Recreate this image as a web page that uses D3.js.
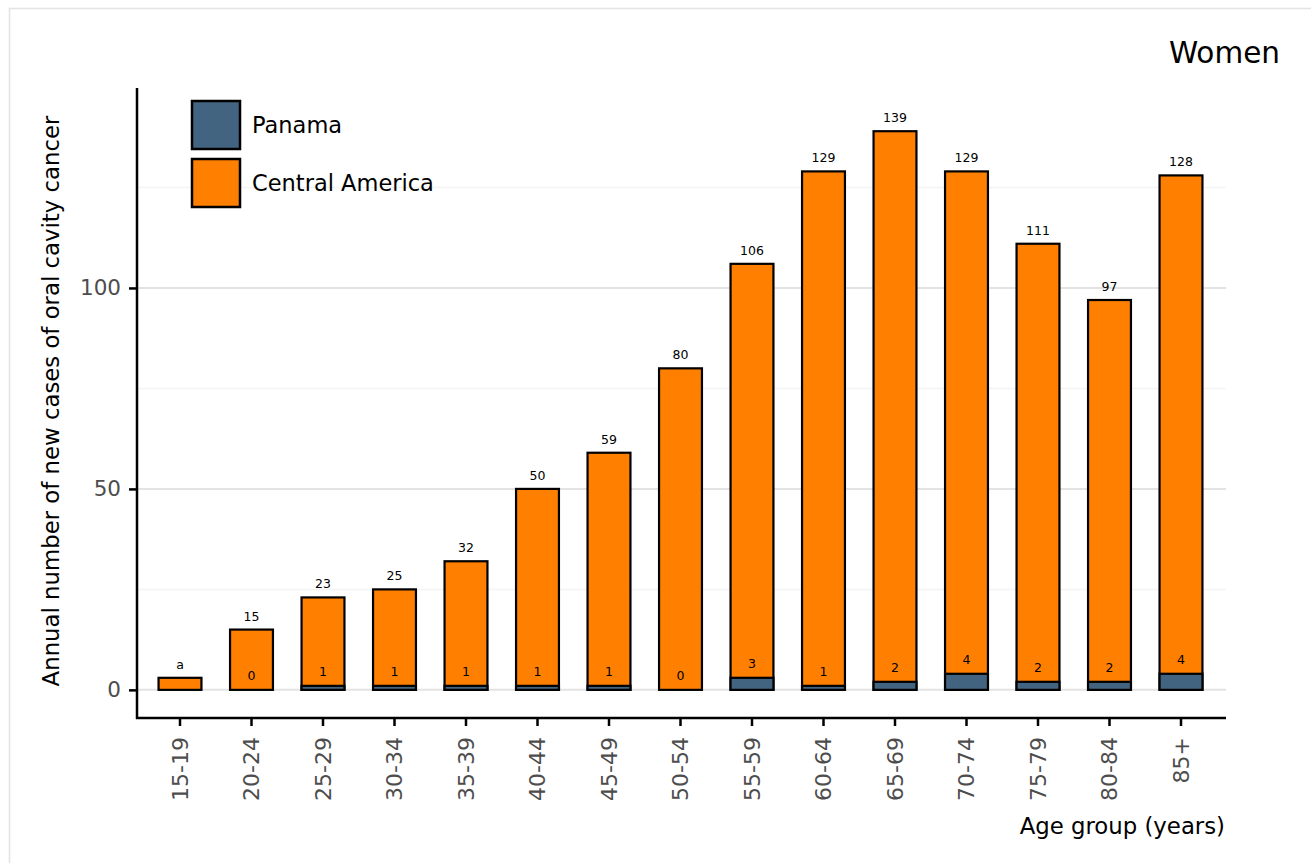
<!DOCTYPE html>
<html><head><meta charset="utf-8">
<script src="https://cdn.jsdelivr.net/npm/d3@7"></script>
<style>body{margin:0;background:#fff;} svg{display:block;font-family:"DejaVu Sans",sans-serif;}</style>
</head><body>
<script>
const categories = ["15-19","20-24","25-29","30-34","35-39","40-44","45-49","50-54","55-59","60-64","65-69","70-74","75-79","80-84","85+"];
const centralAmerica = [3,15,23,25,32,50,59,80,106,129,139,129,111,97,128];
const panama = [0,0,1,1,1,1,1,0,3,1,2,4,2,2,4];
const totalLabels = ["a","15","23","25","32","50","59","80","106","129","139","129","111","97","128"];
const panamaLabels = ["","0","1","1","1","1","1","0","3","1","2","4","2","2","4"];
const yTicks = [0,50,100];
const yMinor = [25,75,125];
const seriesNames = ["Panama","Central America"];
const colors = {"Panama":"#426481","Central America":"#ff7f00"};

const W=1311,H=863;
const svg=d3.select("body").append("svg").attr("width",W).attr("height",H);
svg.append("rect").attr("x",9.5).attr("y",8.5).attr("width",W+10).attr("height",H+10)
  .attr("fill","#fff").attr("stroke","#e3e3e3").attr("stroke-width",1.5);

const x=d3.scaleBand().domain(categories).range([144.25,1216.75]).paddingInner(0.4).paddingOuter(0.2);
const y=d3.scaleLinear().domain([-7,149.75]).range([718,88]);
const xl=137,xr=1226;

// grid
svg.append("g").selectAll("line").data(yMinor).join("line")
  .attr("x1",xl).attr("x2",xr).attr("y1",d=>y(d)).attr("y2",d=>y(d))
  .attr("stroke","#f4f4f4").attr("stroke-width",1.5);
svg.append("g").selectAll("line").data(yTicks).join("line")
  .attr("x1",xl).attr("x2",xr).attr("y1",d=>y(d)).attr("y2",d=>y(d))
  .attr("stroke","#e3e3e3").attr("stroke-width",2);

// bars
const g=svg.append("g");
g.selectAll("rect.ca").data(categories).join("rect").attr("class","ca")
  .attr("x",d=>x(d)).attr("width",x.bandwidth())
  .attr("y",(d,i)=>y(centralAmerica[i])).attr("height",(d,i)=>y(0)-y(centralAmerica[i]))
  .attr("fill",colors["Central America"]).attr("stroke","#000").attr("stroke-width",2.2);
g.selectAll("rect.pa").data(categories).join("rect").attr("class","pa")
  .attr("x",d=>x(d)).attr("width",x.bandwidth())
  .attr("y",(d,i)=>y(panama[i])).attr("height",(d,i)=>y(0)-y(panama[i]))
  .attr("fill",colors["Panama"]).attr("stroke","#000").attr("stroke-width",2.2);

g.selectAll("text.tl").data(categories).join("text").attr("class","tl")
  .attr("x",d=>x(d)+x.bandwidth()/2).attr("y",(d,i)=>y(centralAmerica[i])-9)
  .attr("text-anchor","middle").attr("font-size",12.5).attr("fill","#000")
  .text((d,i)=>totalLabels[i]);
g.selectAll("text.pl").data(categories).join("text").attr("class","pl")
  .attr("x",d=>x(d)+x.bandwidth()/2).attr("y",(d,i)=>y(panama[i])-10)
  .attr("text-anchor","middle").attr("font-size",12.5).attr("fill","#000")
  .text((d,i)=>panamaLabels[i]);

// axes
const yAxis=svg.append("g").attr("transform",`translate(${xl},0)`)
  .call(d3.axisLeft(y).tickValues(yTicks).tickSize(8).tickPadding(8));
yAxis.select(".domain").remove();
yAxis.selectAll(".tick line").attr("stroke","#000").attr("stroke-width",2.5);
yAxis.selectAll("text").attr("font-size",21.5).attr("fill","#4d4d4d").attr("font-family","DejaVu Sans");
svg.append("line").attr("x1",xl).attr("x2",xl).attr("y1",88).attr("y2",719).attr("stroke","#000").attr("stroke-width",2.5);

const xAxis=svg.append("g").attr("transform",`translate(0,718)`)
  .call(d3.axisBottom(x).tickSize(8).tickPadding(8));
xAxis.select(".domain").remove();
xAxis.selectAll(".tick line").attr("stroke","#000").attr("stroke-width",2.5);
xAxis.selectAll("text").attr("font-size",22).attr("fill","#4d4d4d").attr("font-family","DejaVu Sans")
  .attr("transform","rotate(-90)").attr("text-anchor","end").attr("dy","0.35em").attr("x",-19).attr("y",0);
svg.append("line").attr("x1",xl-1).attr("x2",xr).attr("y1",718).attr("y2",718).attr("stroke","#000").attr("stroke-width",2.5);

// titles
svg.append("text").attr("x",xr-1).attr("y",834).attr("text-anchor","end").attr("font-size",22.8).attr("fill","#000").text("Age group (years)");
svg.append("text").attr("transform","translate(59,401) rotate(-90)").attr("text-anchor","middle").attr("font-size",22.8).attr("fill","#000")
  .text("Annual number of new cases of oral cavity cancer");
svg.append("text").attr("x",1280).attr("y",63).attr("text-anchor","end").attr("font-size",29.5).attr("fill","#000").text("Women");

// legend
const lg=svg.append("g");
seriesNames.forEach((s,i)=>{
  lg.append("rect").attr("x",192).attr("y",101+i*58).attr("width",48).attr("height",48)
    .attr("fill",colors[s]).attr("stroke","#000").attr("stroke-width",2.5);
  lg.append("text").attr("x",252).attr("y",125+i*58).attr("dy","0.35em").attr("font-size",22.5).attr("fill","#000").text(s);
});
</script>
</body></html>
